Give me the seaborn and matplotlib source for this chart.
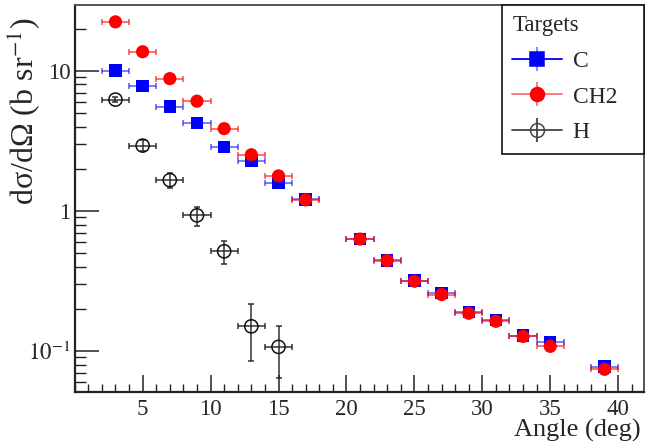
import matplotlib
matplotlib.use("Agg")
import matplotlib.pyplot as plt
import pandas as pd
import seaborn as sns
from matplotlib.lines import Line2D
from matplotlib.legend_handler import HandlerTuple
from matplotlib.ticker import FixedLocator, FixedFormatter, LogLocator, MultipleLocator, NullFormatter

# Scattering angle bin centres (deg) and half bin width
angles = [3, 5, 7, 9, 11, 13, 15, 17, 21, 23, 25, 27, 29, 31, 33, 35, 39]
h_angles = [3, 5, 7, 9, 11, 13, 15]
half_bin = 1.0

# Differential cross sections (b/sr)
c_vals = [10.05, 7.81, 5.56, 4.23, 2.85, 2.28, 1.58, 1.21, 0.632, 0.443,
          0.318, 0.26, 0.190, 0.167, 0.129, 0.116, 0.0775]
c_err = [0.15, 0.12, 0.09, 0.07, 0.05, 0.04, 0.03, 0.025, 0.012, 0.009,
         0.007, 0.006, 0.005, 0.004, 0.004, 0.004, 0.003]
ch2_vals = [22.4, 13.7, 8.81, 6.08, 3.87, 2.52, 1.78, 1.20, 0.630, 0.442,
            0.315, 0.253, 0.186, 0.163, 0.127, 0.108, 0.074]
ch2_err = [0.3, 0.2, 0.13, 0.09, 0.06, 0.04, 0.03, 0.025, 0.012, 0.009,
           0.007, 0.006, 0.005, 0.004, 0.004, 0.004, 0.003]
h_vals = [6.24, 2.93, 1.66, 0.93, 0.515, 0.150, 0.107]
h_err = [0.26, 0.26, 0.20, 0.145, 0.094, 0.065, 0.043]

targets = ["C", "CH2", "H"]
y_ticks = [0.1, 1, 10]
y_tick_labels = [r"$10^{-1}$", "1", "10"]
x_ticks = [5, 10, 15, 20, 25, 30, 35, 40]

sns.set_theme(style="ticks")
plt.rcParams["font.family"] = ["Liberation Serif", "DejaVu Serif"]
plt.rcParams["mathtext.fontset"] = "stix"

df_c = pd.DataFrame({"angle": angles, "xs": c_vals, "err": c_err})
df_ch2 = pd.DataFrame({"angle": angles, "xs": ch2_vals, "err": ch2_err})
df_h = pd.DataFrame({"angle": h_angles, "xs": h_vals, "err": h_err})

fig = plt.figure(figsize=(6.64, 4.48), dpi=100)
ax = fig.add_axes([0.1125, 0.1243, 0.8574, 0.8652])

ms = 80
# Carbon
ax.errorbar(df_c["angle"], df_c["xs"], xerr=half_bin, yerr=df_c["err"], fmt="none",
            ecolor="#0000ff", alpha=0.55, elinewidth=1.3, capsize=2.2, capthick=1.3, zorder=2)
sns.scatterplot(data=df_c, x="angle", y="xs", marker="s", s=ms, color="#0000ff",
                edgecolor="none", ax=ax, zorder=3, legend=False)
# Polyethylene
ax.errorbar(df_ch2["angle"], df_ch2["xs"], xerr=half_bin, yerr=df_ch2["err"], fmt="none",
            ecolor="#ff0000", alpha=0.6, elinewidth=1.3, capsize=2.2, capthick=1.3, zorder=4)
sns.scatterplot(data=df_ch2, x="angle", y="xs", marker="o", s=ms + 10, color="#ff0000",
                edgecolor="none", ax=ax, zorder=5, legend=False)
# Hydrogen (extracted)
ax.errorbar(df_h["angle"], df_h["xs"], xerr=half_bin, yerr=df_h["err"], fmt="none",
            ecolor="#222222", alpha=0.85, elinewidth=1.2, capsize=2.2, capthick=1.2, zorder=6)
sns.scatterplot(data=df_h, x="angle", y="xs", marker="o", s=ms + 10, facecolor="none",
                edgecolor="#111111", linewidth=1.1, ax=ax, zorder=7, legend=False)

ax.set_yscale("log")
ax.set_xlim(0, 41.9)
ax.set_ylim(0.0507, 29.7)

ax.xaxis.set_major_locator(FixedLocator(x_ticks))
ax.xaxis.set_minor_locator(MultipleLocator(1))
ax.yaxis.set_major_locator(FixedLocator(y_ticks))
ax.yaxis.set_major_formatter(FixedFormatter(y_tick_labels))
ax.yaxis.set_minor_locator(LogLocator(base=10, subs=[2, 3, 4, 5, 6, 7, 8, 9]))
ax.yaxis.set_minor_formatter(NullFormatter())

ax.tick_params(axis="x", which="major", direction="in", length=12, width=1.1,
               labelsize=16.5, pad=5, color="#222222")
ax.tick_params(axis="x", which="minor", direction="in", length=6, width=1.0, color="#222222")
ax.tick_params(axis="y", which="major", direction="in", length=17, width=1.1,
               labelsize=16.5, pad=3, color="#222222")
ax.tick_params(axis="y", which="minor", direction="in", length=8, width=1.0, color="#222222")

for side in ["left", "bottom"]:
    ax.spines[side].set_color("#222222")
    ax.spines[side].set_linewidth(1.6)
for side in ["top", "right"]:
    ax.spines[side].set_visible(True)
    ax.spines[side].set_color("#555555")
    ax.spines[side].set_linewidth(1.4)

ax.set_xlabel("Angle (deg)", fontsize=19, loc="right")
ax.xaxis.set_label_coords(0.994, -0.068)
ax.set_ylabel("dσ/dΩ (b sr$^{-1}$)", fontsize=23, loc="top")
ax.yaxis.set_label_coords(-0.058, 0.966)

# Legend entries: horizontal bin-width bar, vertical error bar and marker
def entry(color_h, color_v, marker, face):
    hline = Line2D([], [], color=color_h, lw=1.3)
    vline = Line2D([], [], color=color_v, marker="|", markersize=17, markeredgewidth=1.3,
                   linestyle="none")
    mk = Line2D([], [], marker=marker, markersize=10, markerfacecolor=face,
                markeredgecolor=color_h if face == "none" else face, markeredgewidth=1.1,
                linestyle="none")
    return (hline, vline, mk)

handles = [entry("#0000ff", "#8080ff", "s", "#0000ff"),
           entry("#ff7070", "#ff7070", "o", "#ff0000"),
           entry("#444444", "#444444", "o", "none")]
leg = ax.legend(handles, targets, title="Targets", loc="upper left",
                bbox_to_anchor=(0.75, 0.625, 0.25, 0.375), mode="expand",
                borderaxespad=0, fontsize=17, title_fontsize=16.5,
                handler_map={tuple: HandlerTuple(ndivide=1)}, handlelength=2.1,
                handletextpad=0.45, labelspacing=0.6, borderpad=0.45,
                frameon=True, fancybox=False, framealpha=1, edgecolor="#111111",
                alignment="left")
leg.get_frame().set_linewidth(1.2)
leg.set_zorder(10)

fig.savefig("out.png", dpi=100)
